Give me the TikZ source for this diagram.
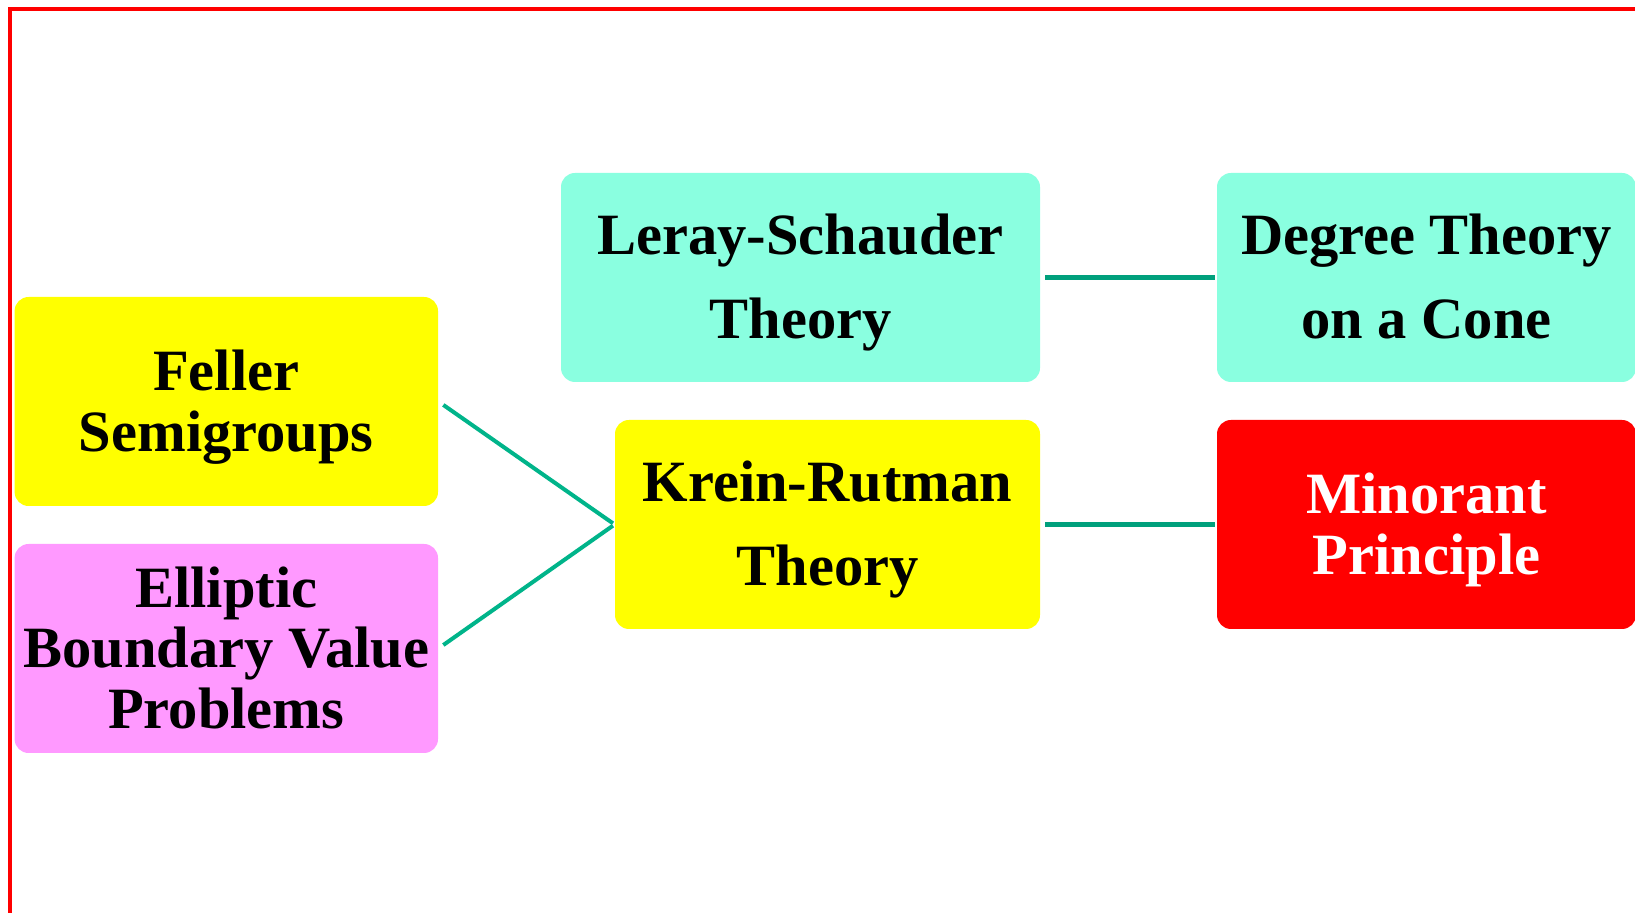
\documentclass[tikz,border=0pt]{standalone}
\usepackage{fontspec}
\setmainfont{Liberation Serif}
\definecolor{aquabox}{HTML}{8AFFE0}
\definecolor{yellowbox}{HTML}{FFFF00}
\definecolor{pinkbox}{HTML}{FF99FF}
\definecolor{redbox}{HTML}{FF0000}
\definecolor{connA}{HTML}{00B48A}
\definecolor{connB}{HTML}{00A07C}
\definecolor{framered}{HTML}{FF0000}
\newcommand\lnstrut{\rule[-6.6pt]{0pt}{32.6pt}}
\newcommand\fixedlines{\lineskiplimit -100pt\relax}
\newcommand\narrowfont{\bfseries\fontsize{29.25}{30.25}\selectfont\fixedlines}
\newcommand\widefont{\bfseries\fontsize{29.25}{42}\selectfont\fixedlines}
\begin{document}
\begin{tikzpicture}[x=0.5pt,y=-0.5pt,
  box/.style={rounded corners=7pt, inner sep=0pt, align=center, minimum height=104.5pt,
    font=\narrowfont},
  widebox/.style={box, font=\widefont},
  lconn/.style={draw=connA, line width=2pt, shorten <=3pt, shorten >=1pt},
  rconn/.style={draw=connB, line width=2.8pt, shorten <=2.5pt, shorten >=1pt}]
\useasboundingbox (0,0) rectangle (1635,913);
\fill[white] (0,0) rectangle (1635,913);
\draw[framered, line width=1.8pt] (1640,9) -- (10,9) -- (10,918);
\node[box, fill=yellowbox, minimum width=211.7pt] (fel) at (226.3,401.5) {Feller\lnstrut\\Semigroups\lnstrut};
\node[box, fill=pinkbox, minimum width=211.7pt] (ell) at (226.3,648.5) {Elliptic\lnstrut\\Boundary Value\lnstrut\\Problems\lnstrut};
\node[widebox, fill=aquabox, minimum width=239.5pt] (ler) at (800.5,277.5) {Leray-Schauder\lnstrut\\Theory\lnstrut};
\node[widebox, fill=aquabox, minimum width=209.5pt] (deg) at (1426.5,277.5) {Degree Theory\lnstrut\\on a Cone\lnstrut};
\node[widebox, fill=yellowbox, minimum width=212.5pt] (kr) at (827.5,524.5) {Krein-Rutman\lnstrut\\Theory\lnstrut};
\node[box, fill=redbox, text=white, minimum width=209.5pt] (min) at (1426.5,524.5) {Minorant\lnstrut\\Principle\lnstrut};
\draw[lconn] (fel.east) -- (kr.west);
\draw[lconn] (ell.east) -- (kr.west);
\draw[rconn] (ler.east) -- (deg.west);
\draw[rconn] (kr.east) -- (min.west);
\end{tikzpicture}
\end{document}
